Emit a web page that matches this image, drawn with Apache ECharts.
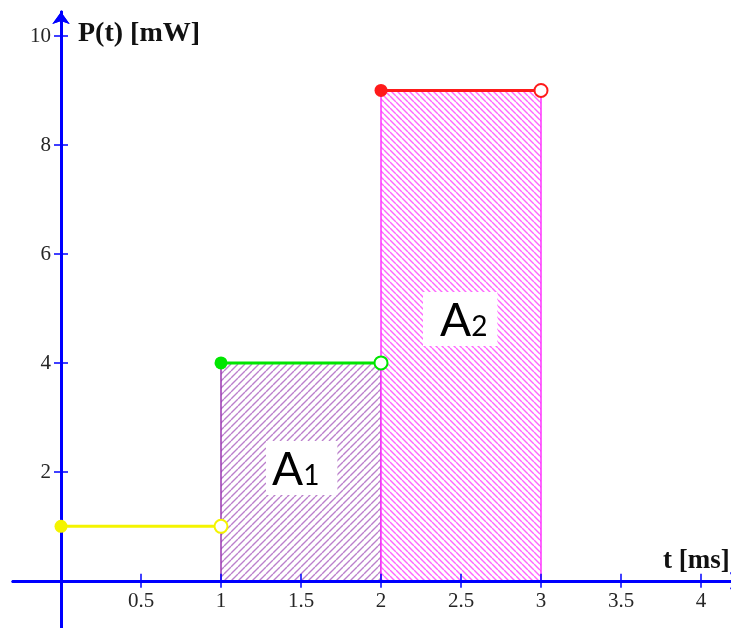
<!DOCTYPE html>
<html><head><meta charset="utf-8">
<script src="https://cdn.jsdelivr.net/npm/echarts@6/dist/echarts.min.js"></script>
<style>html,body{margin:0;padding:0;background:#fff}#c{width:731px;height:628px}</style>
</head><body><div id="c"></div>
<script>
// ---- data ----
const xTickValues = [0.5, 1, 1.5, 2, 2.5, 3, 3.5, 4];
const yTickValues = [2, 4, 6, 8, 10];
const segStart = [0, 1, 2];
const segEnd = [1, 2, 3];
const segPower = [1, 4, 9];
const areaNames = ['A1', 'A2'];
const areaStart = [1, 2];
const areaEnd = [2, 3];
const areaHeight = [4, 9];

// ---- styles ----
const segColors = ['#f4f400', '#00e600', '#ff1a1a'];
function hatch(size, color, dir, lw) {
  const c = document.createElement('canvas');
  c.width = size; c.height = size;
  const g = c.getContext('2d');
  g.fillStyle = '#fff'; g.fillRect(0, 0, size, size);
  g.strokeStyle = color; g.lineWidth = lw;
  g.beginPath();
  for (let k = -1; k <= 1; k++) {
    if (dir > 0) { g.moveTo(k * size, size); g.lineTo(k * size + size, 0); }
    else { g.moveTo(k * size, 0); g.lineTo(k * size + size, size); }
  }
  g.stroke();
  return c;
}
const areaStyles = [
  { img: hatch(7, '#bb80cc', 1, 1.4), border: '#9a36b0' },
  { img: hatch(6, '#ff66ff', -1, 1.4), border: '#ff33ff' }
];

const chart = echarts.init(document.getElementById('c'));
const blue = '#0000ff';
const labelFont = '21px "Liberation Serif"';
const labelColor = '#262626';
const xMin = -0.3, xMax = 4.26875, yMin = -0.866, yMax = 10.44;
function xAx(pos) {
  return {
    type: 'value', min: xMin, max: xMax, position: pos, z: 5,
    axisLine: { show: true, onZero: true, lineStyle: { color: blue, width: 3 }, symbol: ['none', 'arrow'], symbolSize: [13, 14] },
    axisTick: { show: true, length: 7, customValues: xTickValues, lineStyle: { color: blue, width: 1.5 } },
    axisLabel: { show: false },
    splitLine: { show: false }
  };
}
function yAx(pos) {
  return {
    type: 'value', min: yMin, max: yMax, position: pos, z: 5,
    axisLine: { show: true, onZero: true, lineStyle: { color: blue, width: 3 }, symbol: ['none', 'arrow'], symbolSize: [13, 12] },
    axisTick: { show: true, length: 7, customValues: yTickValues, lineStyle: { color: blue, width: 1.5 } },
    axisLabel: { show: false },
    splitLine: { show: false }
  };
}

const series = [];
series.push({
  type: 'custom', z: 1, silent: true,
  data: areaNames.map((n, i) => [areaStart[i], areaEnd[i], areaHeight[i]]),
  renderItem: function (params, api) {
    const i = params.dataIndex;
    const p0 = api.coord([api.value(0), 0]);
    const p1 = api.coord([api.value(1), api.value(2)]);
    const st = areaStyles[i];
    return {
      type: 'group', children: [
        { type: 'rect', shape: { x: p0[0], y: p1[1], width: p1[0] - p0[0], height: p0[1] - p1[1] },
          style: { fill: { image: st.img, repeat: 'repeat' }, stroke: null } },
        { type: 'line', shape: { x1: p0[0], y1: p0[1], x2: p0[0], y2: p1[1] }, style: { stroke: st.border, lineWidth: 1.5 } },
        { type: 'line', shape: { x1: p1[0], y1: p0[1], x2: p1[0], y2: p1[1] }, style: { stroke: st.border, lineWidth: 1.5 } }
      ]
    };
  }
});
// tick labels on the zero-crossing axes
series.push({
  type: 'custom', z: 6, silent: true, clip: false,
  data: xTickValues.map(v => [v, 0]),
  renderItem: function (params, api) {
    const p = api.coord([api.value(0), 0]);
    return { type: 'text', x: p[0], y: p[1] + 10,
      style: { text: String(api.value(0)), font: labelFont, fill: labelColor, align: 'center', verticalAlign: 'top' } };
  }
});
series.push({
  type: 'custom', z: 6, silent: true, clip: false,
  data: yTickValues.map(v => [0, v]),
  renderItem: function (params, api) {
    const p = api.coord([0, api.value(1)]);
    return { type: 'text', x: p[0] - 10, y: p[1] + 1,
      style: { text: String(api.value(1)), font: labelFont, fill: labelColor, align: 'right', verticalAlign: 'middle' } };
  }
});
segStart.forEach((s, i) => {
  series.push({
    type: 'line', z: 10, silent: true, showAllSymbol: true,
    symbolSize: 13,
    lineStyle: { color: segColors[i], width: 3 },
    itemStyle: { color: segColors[i], borderWidth: 1.5 },
    data: [
      { value: [s, segPower[i]], symbol: 'circle' },
      { value: [segEnd[i], segPower[i]], symbol: 'emptyCircle' }
    ]
  });
});

const aRich = {
  a: { fontFamily: 'Lato', fontSize: 46, fill: '#000', verticalAlign: 'bottom', lineHeight: 50 },
  s: { fontFamily: 'Lato', fontSize: 28, fill: '#000', verticalAlign: 'bottom', lineHeight: 50, padding: [0, 0, 3, 0] }
};
chart.setOption({
  animation: false,
  backgroundColor: '#fff',
  grid: { left: 13, right: -13, top: 12, bottom: 0, containLabel: false, outerBoundsMode: 'none' },
  xAxis: [xAx('bottom'), xAx('top')],
  yAxis: [yAx('left'), yAx('right')],
  series: series,
  graphic: [
    { type: 'text', left: 78, top: 20, z: 20, style: { text: 'P(t) [mW]', font: 'bold 28px "Liberation Serif"', fill: '#111' } },
    { type: 'text', left: 663, top: 548, z: 20, style: { text: 't [ms]', font: 'bold 27px "Liberation Serif"', fill: '#111' } },
    { type: 'text', left: 266, top: 441, z: 20, style: {
        text: '{a|A}{s|1}', backgroundColor: '#fff', padding: [2, 18, 2, 6], rich: aRich } },
    { type: 'text', left: 423, top: 292, z: 20, style: {
        text: '{a|A}{s|2}', backgroundColor: '#fff', padding: [2, 10, 2, 17], rich: aRich } }
  ]
});
</script></body></html>
